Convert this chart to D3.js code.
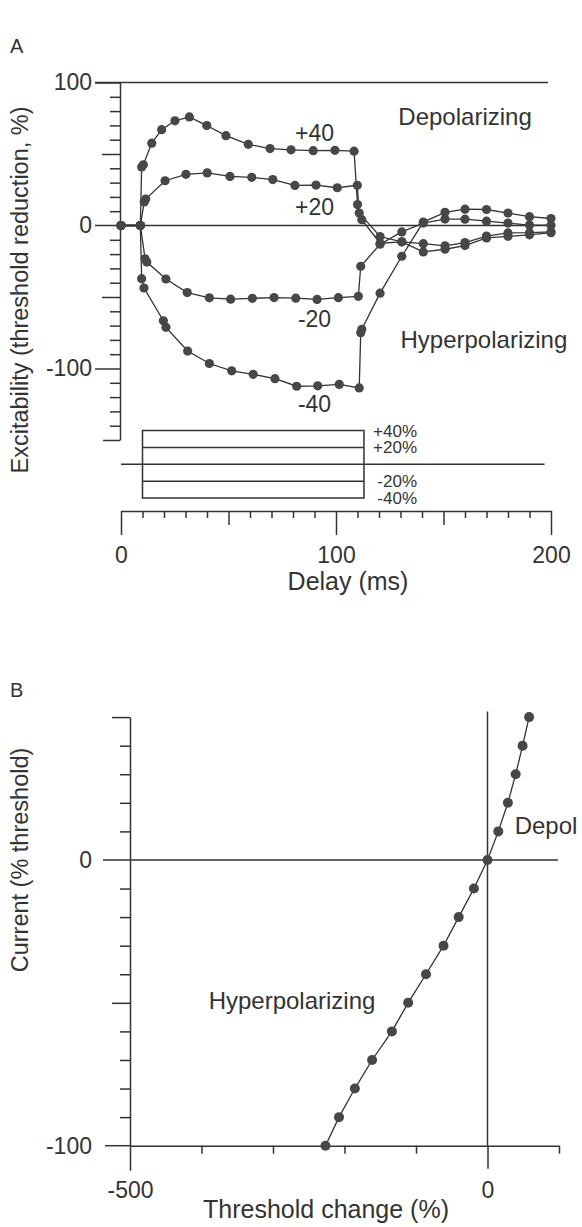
<!DOCTYPE html>
<html>
<head>
<meta charset="utf-8">
<script src="https://cdn.jsdelivr.net/npm/d3@7/dist/d3.min.js"></script>
<style>
  body { margin: 0; background: #fff; }
  svg { display: block; font-family: "Liberation Sans", Arial, sans-serif; }
</style>
</head>
<body>
<svg id="chart" width="582" height="1227"></svg>
<script>
// ---- panel A data: threshold electrotonus, delay (ms) vs excitability (%)
const plus40Delay = [0, 9, 9.6, 10.4, 14.3, 18.9, 25.1, 31.8, 39.9, 48.8, 59.2, 69.3, 79.1, 89.4, 99.5, 108.4, 110, 112, 120.5, 130.6, 140.6, 150.7, 160, 170, 180, 190, 200];
const plus40Value = [0, 0, 40.9, 42.5, 57.6, 67.0, 73.2, 75.9, 69.9, 62.8, 56.8, 53.8, 52.9, 52.3, 52.6, 52.0, 14.6, 4.1, -12.4, -11.4, -18.5, -16.6, -14, -8.7, -7.6, -6.5, -5];

const plus20Delay = [0, 9, 10.8, 11.5, 20.5, 30.2, 40.1, 50.7, 60.8, 70.6, 80.9, 90.7, 100.6, 109.9, 110.8, 120.5, 130.6, 140.6, 150.7, 160, 170, 180, 190, 200];
const plus20Value = [0, 0, 16.5, 18.5, 31.3, 35.8, 36.8, 34.3, 33.7, 32.1, 28, 28.3, 26.4, 28.1, 8.7, -7.7, -11.4, -12.7, -14.2, -11.9, -7.4, -5.2, -5, -4.4];

const minus20Delay = [0, 9, 11.2, 12, 20.9, 30.8, 41.1, 51, 61.1, 71.2, 81.3, 91.2, 101.1, 110.4, 111.5, 120.5, 130.6, 140.6, 150.7, 160, 170, 180, 190, 200];
const minus20Value = [0, 0, -23.3, -25.6, -37.4, -46.9, -50.6, -51.5, -50.9, -50.4, -50.8, -51.7, -50.5, -49.5, -28.5, -13.1, -4.5, 1.7, 4.5, 4.4, 3.0, 1.7, 0.3, 0.2];

const minus40Delay = [0, 9, 9.6, 10.7, 19.7, 20.9, 31, 41.1, 51.5, 61.5, 71.6, 81.7, 91.5, 101.5, 110.8, 111.5, 112, 120.5, 130.6, 140.6, 150.7, 160, 170, 180, 190, 200];
const minus40Value = [0, 0, -37.2, -43.7, -66.6, -71.2, -87.8, -96.5, -101.6, -104.1, -107.1, -112.4, -112.1, -111.1, -113.6, -75, -72.6, -47.3, -21.5, 2.4, 9.2, 11.4, 11.2, 8.7, 6.2, 4.9];

const curveNames = ["+40", "+20", "-20", "-40"];

// stimulus (% of threshold current), on from 10 to 113 ms
const stimLevels = [40, 20, -20, -40];
const stimLabels = ["+40%", "+20%", "-20%", "-40%"];
const stimOn = 10, stimOff = 113, stimBaseEnd = 197;

const xTicksA = d3.range(0, 201, 10);
const xLabelsA = [0, 100, 200];
const yTicksA = d3.range(-150, 101, 10);
const yLabelsA = [100, 0, -100];

// ---- panel B data: current vs threshold change
const currentB = [50, 40, 30, 20, 10, 0, -10, -20, -30, -40, -50, -60, -70, -80, -90, -100];
const thresholdB = [58.2, 49.1, 39.4, 28.5, 15.1, 0, -19, -40.3, -61.5, -86, -111, -133.7, -161.4, -185.5, -207.7, -226.6];

const xTicksB = d3.range(-500, 101, 100);
const xLabelsB = [-500, 0];
const yTicksB = d3.range(-100, 51, 10);
const yLabelsB = [0, -100];

const ink = "#333";
const dotFill = "#474747";
const svg = d3.select("#chart");

// ================= panel A =================
const xA = d3.scaleLinear().domain([0, 200]).range([121, 551]);
const yA = d3.scaleLinear().domain([-150, 100]).range([440, 82.5]);
const sy = d3.scaleLinear().domain([-40, 40]).range([498, 430.5]);

svg.append("text").attr("x", 10).attr("y", 53).attr("font-size", 20).attr("fill", ink).text("A");

// top line and zero line
[100, 0].forEach(v => {
  svg.append("line")
    .attr("x1", 95).attr("x2", 548)
    .attr("y1", yA(v)).attr("y2", yA(v))
    .attr("stroke", ink).attr("stroke-width", 1.5);
});

const tickLenA = d => d === 0 ? 0 : Math.abs(d) === 100 ? 25 : Math.abs(d) === 50 ? 18 : d === -150 ? 17 : 10;

const yAxisA = svg.append("g")
  .attr("transform", "translate(120,0)")
  .call(d3.axisLeft(yA).tickValues(yTicksA).tickSizeOuter(0)
    .tickFormat(d => yLabelsA.includes(d) ? d : ""));
yAxisA.attr("font-family", null).attr("font-size", 23).style("color", ink);
yAxisA.select(".domain").attr("stroke-width", 1.5);
yAxisA.selectAll(".tick line").attr("x2", d => -tickLenA(d)).attr("stroke-width", 1.5);
yAxisA.selectAll(".tick text").attr("x", -28);

svg.append("text")
  .attr("transform", "translate(28,290) rotate(-90)")
  .attr("text-anchor", "middle").attr("font-size", 23.5).attr("fill", ink)
  .text("Excitability (threshold reduction, %)");

// curves
const curves = [
  d3.zip(plus40Delay, plus40Value),
  d3.zip(plus20Delay, plus20Value),
  d3.zip(minus20Delay, minus20Value),
  d3.zip(minus40Delay, minus40Value)
];
const lineA = d3.line().x(d => xA(d[0])).y(d => yA(d[1]));

curves.forEach(pts => {
  svg.append("path").attr("d", lineA(pts))
    .attr("fill", "none").attr("stroke", ink).attr("stroke-width", 1.3);
});
curves.forEach(pts => {
  svg.append("g").selectAll("circle")
    .data(pts)
    .enter().append("circle")
    .attr("cx", d => xA(d[0]))
    .attr("cy", d => yA(d[1]))
    .attr("r", 4.6)
    .attr("fill", dotFill);
});

// curve labels
const labelPosA = [59, 7.5, -71, -130.5];
curveNames.forEach((name, i) => {
  svg.append("text")
    .attr("x", xA(90)).attr("y", yA(labelPosA[i]))
    .attr("text-anchor", "middle").attr("font-size", 23).attr("fill", ink)
    .text(name);
});
svg.append("text").attr("x", xA(129)).attr("y", yA(70))
  .attr("font-size", 24).attr("fill", ink).text("Depolarizing");
svg.append("text").attr("x", xA(130)).attr("y", yA(-86))
  .attr("font-size", 24).attr("fill", ink).text("Hyperpolarizing");

// stimulus diagram
const stim = svg.append("g").attr("stroke", ink).attr("stroke-width", 1.5).attr("fill", "none");
stim.append("rect")
  .attr("x", xA(stimOn)).attr("y", sy(40))
  .attr("width", xA(stimOff) - xA(stimOn))
  .attr("height", sy(-40) - sy(40));
stim.selectAll(".lvl")
  .data([20, -20])
  .enter().append("line")
  .attr("x1", xA(stimOn)).attr("x2", xA(stimOff))
  .attr("y1", d => sy(d)).attr("y2", d => sy(d));
stim.append("line")
  .attr("x1", xA(0)).attr("x2", xA(stimBaseEnd))
  .attr("y1", sy(0)).attr("y2", sy(0));

stimLevels.forEach((lvl, i) => {
  svg.append("text")
    .attr("x", 417).attr("y", sy(lvl) + 6)
    .attr("text-anchor", "end").attr("font-size", 17).attr("fill", ink)
    .text(stimLabels[i]);
});

// x axis A
const xAxisA = svg.append("g")
  .attr("transform", "translate(0,511)")
  .call(d3.axisBottom(xA).tickValues(xTicksA).tickSizeOuter(0)
    .tickFormat(d => xLabelsA.includes(d) ? d : ""));
xAxisA.attr("font-family", null).attr("font-size", 23).style("color", ink);
xAxisA.select(".domain").attr("stroke-width", 1.5);
xAxisA.selectAll(".tick line")
  .attr("y2", d => d % 100 === 0 ? 24 : d % 50 === 0 ? 14 : 7)
  .attr("stroke-width", 1.5);
xAxisA.selectAll(".tick text").attr("y", 36);

svg.append("text").attr("x", 348).attr("y", 590)
  .attr("text-anchor", "middle").attr("font-size", 25).attr("fill", ink)
  .text("Delay (ms)");

// ================= panel B =================
const xB = d3.scaleLinear().domain([-500, 100]).range([130, 559]);
const yB = d3.scaleLinear().domain([-100, 50]).range([1145.7, 717.1]);

svg.append("text").attr("x", 10).attr("y", 697).attr("font-size", 20).attr("fill", ink).text("B");

// zero line, vertical zero line, left extension of x axis
svg.append("line").attr("x1", 103).attr("x2", 558)
  .attr("y1", yB(0)).attr("y2", yB(0))
  .attr("stroke", ink).attr("stroke-width", 1.5);
svg.append("line").attr("x1", xB(0)).attr("x2", xB(0))
  .attr("y1", yB(52)).attr("y2", yB(-100))
  .attr("stroke", ink).attr("stroke-width", 1.5);
svg.append("line").attr("x1", 105).attr("x2", xB(-500))
  .attr("y1", yB(-100)).attr("y2", yB(-100))
  .attr("stroke", ink).attr("stroke-width", 1.5);

const tickLenB = d => (d === 0 || d === -100) ? 0 : Math.abs(d) === 50 ? 18 : 10;

const yAxisB = svg.append("g")
  .attr("transform", "translate(" + xB(-500) + ",0)")
  .call(d3.axisLeft(yB).tickValues(yTicksB).tickSizeOuter(0)
    .tickFormat(d => yLabelsB.includes(d) ? d : ""));
yAxisB.attr("font-family", null).attr("font-size", 23).style("color", ink);
yAxisB.select(".domain").attr("stroke-width", 1.5);
yAxisB.selectAll(".tick line").attr("x2", d => -tickLenB(d)).attr("stroke-width", 1.5);
yAxisB.selectAll(".tick text").attr("x", -38);

const xAxisB = svg.append("g")
  .attr("transform", "translate(0," + yB(-100) + ")")
  .call(d3.axisBottom(xB).tickValues(xTicksB).tickSizeOuter(0)
    .tickFormat(d => xLabelsB.includes(d) ? d : ""));
xAxisB.attr("font-family", null).attr("font-size", 23).style("color", ink);
xAxisB.select(".domain").attr("stroke-width", 1.5);
xAxisB.selectAll(".tick line")
  .attr("y2", d => d === -500 ? 25 : d === 0 ? 23 : 8)
  .attr("stroke-width", 1.5);
xAxisB.selectAll(".tick text").attr("y", 36);

svg.append("text")
  .attr("transform", "translate(28,860) rotate(-90)")
  .attr("text-anchor", "middle").attr("font-size", 23.5).attr("fill", ink)
  .text("Current (% threshold)");

svg.append("text").attr("x", 326).attr("y", 1218)
  .attr("text-anchor", "middle").attr("font-size", 25).attr("fill", ink)
  .text("Threshold change (%)");

const ptsB = d3.zip(thresholdB, currentB);
const lineB = d3.line().x(d => xB(d[0])).y(d => yB(d[1]));
svg.append("path").attr("d", lineB(ptsB))
  .attr("fill", "none").attr("stroke", ink).attr("stroke-width", 1.3);
svg.append("g").selectAll("circle")
  .data(ptsB)
  .enter().append("circle")
  .attr("cx", d => xB(d[0]))
  .attr("cy", d => yB(d[1]))
  .attr("r", 5)
  .attr("fill", dotFill);

svg.append("text").attr("x", xB(-390)).attr("y", yB(-52))
  .attr("font-size", 24).attr("fill", ink).text("Hyperpolarizing");
svg.append("text").attr("x", xB(38)).attr("y", yB(9))
  .attr("font-size", 24).attr("fill", ink).text("Depol");
</script>
</body>
</html>
